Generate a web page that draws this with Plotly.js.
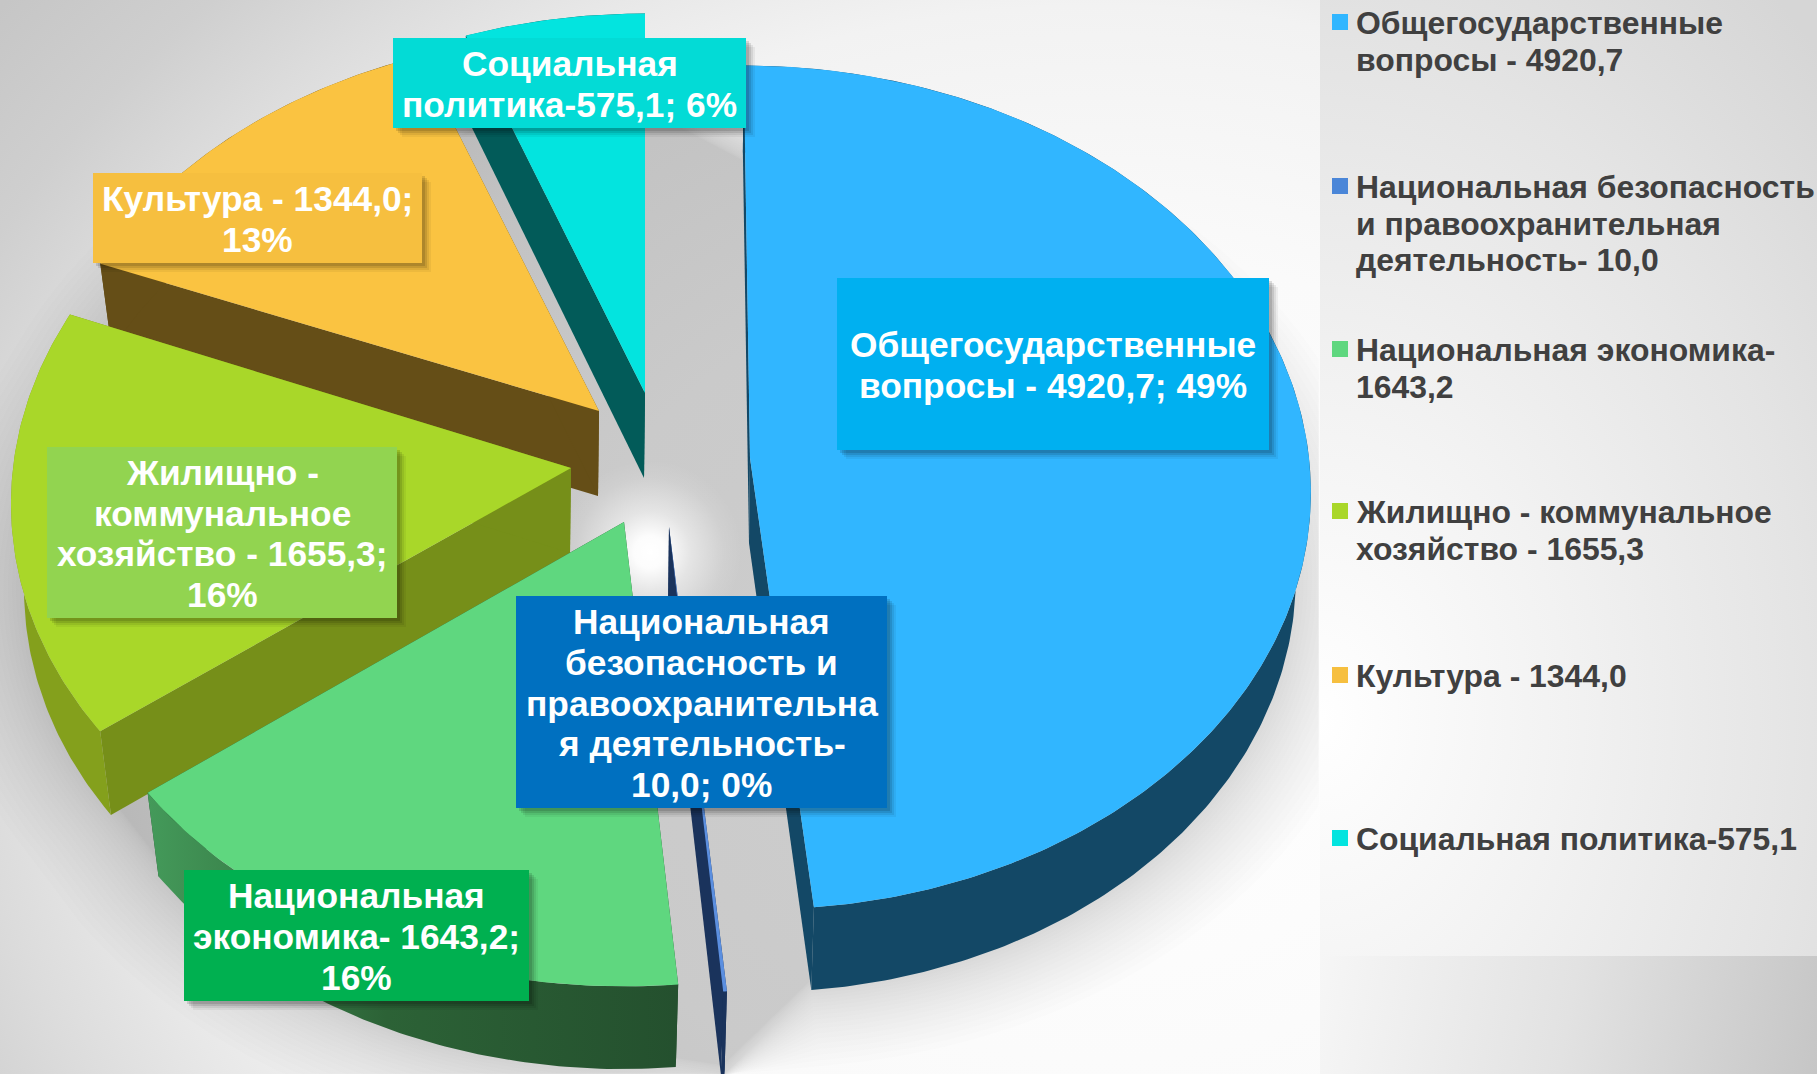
<!DOCTYPE html>
<html><head><meta charset="utf-8">
<script src="https://cdn.plot.ly/plotly-3.0.1.min.js"></script>
<style>
html,body{margin:0;padding:0;width:1817px;height:1074px;overflow:hidden;}
body{position:relative;background:
 radial-gradient(ellipse 1400px 1120px at 1100px 700px,#ffffff 0%,#fafafa 40%,#f2f2f2 62%,#e8e8e8 71%,#dcdcdc 80%,#cfcfcf 89%,#c6c6c6 100%);}
#strip{position:absolute;left:1320px;top:956px;width:497px;height:118px;background:linear-gradient(100deg,#f6f6f6 0%,#e2e2e2 50%,#c6c6c6 100%);}
#panel{position:absolute;left:1320px;top:0;width:497px;height:956px;background:radial-gradient(ellipse 700px 950px at 0% 75%,#ffffff 0%,#f2f2f2 35%,#e4e4e4 70%,#d6d6d6 100%);}
#chart{position:absolute;left:0;top:0;width:1817px;height:1074px;}
</style></head>
<body><div id="strip"></div><div id="panel"></div><div id="chart"></div>
<script>
// ---- data ----
var categories=["Общегосударственные вопросы","Национальная безопасность и правоохранительная деятельность","Национальная экономика","Жилищно - коммунальное хозяйство","Культура","Социальная политика"];
var values=[4920.7,10.0,1643.2,1655.3,1344.0,575.1];
var dataLabels=[
 "Общегосударственные<br>вопросы - 4920,7; 49%",
 "Национальная<br>безопасность и<br>правоохранительна<br>я деятельность-<br>10,0; 0%",
 "Национальная<br>экономика- 1643,2;<br>16%",
 "Жилищно -<br>коммунальное<br>хозяйство - 1655,3;<br>16%",
 "Культура - 1344,0;<br>13%",
 "Социальная<br>политика-575,1; 6%"];
var legendLabels=[
 "Общегосударственные<br>вопросы - 4920,7",
 "Национальная безопасность<br>и правоохранительная<br>деятельность- 10,0",
 "Национальная экономика-<br>1643,2",
 "Жилищно - коммунальное<br>хозяйство - 1655,3",
 "Культура - 1344,0",
 "Социальная политика-575,1"];
// ---- styles ----
var topColor=["#31B6FF","#5B8FE0","#5FD77F","#A9D729","#FAC341","#03E4DF"];
var wallColor=["#134866","#1A335C","#24502E","#768F19","#654E17","#025B59"];
var arcColor=["#134866","#1A335C","#2C6236","#84A01C","#654E17","#025B59"];
var legendColor=["#31B6FF","#4A86D8","#5FD77F","#A9D729","#F6BF3F","#03E4DF"];
var boxColor=["#00B0F0","#0070C0","#00B050","#92D450","#F6BF3F","#03DBD6"];
// ---- layout of the exploded perspective pie ----
var apexX=[750,669,624,571,599,645], apexY=[458,527,522,468,411,393];
var radX=[559,571,571,558,552,550], radY=[422,436,434,422,405,408];
var shear=[0.016,0,0,-0.02,0,0];
var persp=0.07, depth=85, kx=0.975, ky=0.995;
var boxL=[837,516,184,47,93,393], boxR=[1269,887,529,397,422,746], boxT=[278,596,870,447,173,38], boxB=[450,808,1001,618,263,128];
var legendY=[23,187,350,512,676,839];
var paintOrder=[5,4,3,2,1,0];

var total=values.reduce(function(a,b){return a+b;},0);
var startA=[],endA=[],acc=0;
values.forEach(function(v,i){startA[i]=acc/total*360;acc+=v;endA[i]=acc/total*360;});
function pt(i,deg,bottom,f){
  var t=deg*Math.PI/180,s=1-persp*Math.cos(t),g=f||1;
  var dy=-radY[i]*Math.cos(t)*s*g;
  var dx=radX[i]*Math.sin(t)*s*g+shear[i]*dy;
  if(bottom){dx*=kx;dy*=ky;dy+=depth;dx-=1;}
  return [apexX[i]+dx,apexY[i]+dy];
}
function arc(i,a0,a1,bottom,f){
  var n=Math.max(2,Math.ceil((a1-a0)*1.5)),o=[];
  for(var k=0;k<=n;k++)o.push(pt(i,a0+(a1-a0)*k/n,bottom,f));
  return o;
}
function poly(points,color,extra){
  var tr={type:"scatter",mode:"lines",x:points.map(function(p){return p[0];}),y:points.map(function(p){return p[1];}),
    fill:"toself",fillcolor:color,line:{width:0,color:color},hoverinfo:"skip",showlegend:false};
  if(extra)for(var k in extra)tr[k]=extra[k];
  return tr;
}
function apexPt(i,bottom){return bottom?[apexX[i]-1,apexY[i]+depth]:[apexX[i],apexY[i]];}

var traces=[];
// soft shadow below the pie: its silhouette, grown in steps, denser near the edge
for(var l=0;l<24;l++){
  var f=0.98+Math.pow(l/23,1.6)*0.19,pts=[];
  categories.forEach(function(c,i){ pts=pts.concat(arc(i,startA[i],endA[i],true,f)); });
  pts=pts.map(function(p){return [Math.min(1319,p[0]),Math.min(1074,p[1])];});
  traces.push(poly(pts,"rgba(0,0,0,0.0082)"));
}
// bright spot in the middle of the gaps
var spot=[];for(var d2=0;d2<=360;d2+=6){var r2=d2*Math.PI/180;spot.push([650+135*Math.sin(r2),552+135*Math.cos(r2)]);}
traces.push(poly(spot,"rgba(255,255,255,0)",{fillgradient:{type:"radial",colorscale:[[0,"rgba(255,255,255,1)"],[0.12,"rgba(255,255,255,0.95)"],[0.3,"rgba(255,255,255,0.5)"],[0.55,"rgba(255,255,255,0.1)"],[0.68,"rgba(255,255,255,0)"],[1,"rgba(255,255,255,0)"]]}}));

paintOrder.forEach(function(i){
  var a0=startA[i],a1=endA[i];
  [a0,a1].forEach(function(a){
    traces.push(poly([apexPt(i,false),pt(i,a,false),pt(i,a,true),apexPt(i,true)],wallColor[i]));
  });
  var extra=null;
  if(i===2)extra={fillgradient:{type:"horizontal",colorscale:[[0,"#449A5A"],[0.45,"#2C6236"],[1,"#24502E"]]}};
  traces.push(poly(arc(i,a0,a1,false).concat(arc(i,a0,a1,true).reverse()),arcColor[i],extra));
  var face=[apexPt(i,false)].concat(arc(i,a0,a1,false));
  traces.push(poly(face,topColor[i],{name:categories[i]}));
});
categories.forEach(function(c,i){
  traces.push({type:"scatter",mode:"markers",x:[1340],y:[legendY[i]-1],marker:{symbol:"square",size:16,color:legendColor[i],line:{width:0}},hoverinfo:"skip",showlegend:false,name:c});
});

var shapes=[],annotations=[];
categories.forEach(function(c,i){
  [[9,9,0.05],[7,7,0.07],[5,5,0.10],[3,3,0.12]].forEach(function(s){
    shapes.push({type:"rect",xref:"x",yref:"y",x0:boxL[i]+s[0],x1:boxR[i]+s[0],y0:boxT[i]+s[1],y1:boxB[i]+s[1],fillcolor:"rgba(0,0,0,"+s[2]+")",line:{width:0},layer:"above"});
  });
  shapes.push({type:"rect",xref:"x",yref:"y",x0:boxL[i],x1:boxR[i],y0:boxT[i],y1:boxB[i],fillcolor:boxColor[i],line:{width:0},layer:"above"});
  var lines=dataLabels[i].split("<br>"),lh=40.7,cy=(boxT[i]+boxB[i])/2+1;
  lines.forEach(function(t,k){
    annotations.push({xref:"x",yref:"y",x:(boxL[i]+boxR[i])/2,y:cy+(k-(lines.length-1)/2)*lh,xanchor:"center",yanchor:"middle",align:"center",showarrow:false,
      text:t,font:{family:"Liberation Sans",size:35.3,color:"#FFFFFF",weight:"bold"}});
  });
  legendLabels[i].split("<br>").forEach(function(t,k){
    annotations.push({xref:"x",yref:"y",x:1354,y:legendY[i]+k*36.5,xanchor:"left",yanchor:"middle",align:"left",showarrow:false,
      text:t,font:{family:"Liberation Sans",size:31.9,color:"#404040",weight:"bold"}});
  });
});

Plotly.newPlot("chart",traces,{
  width:1817,height:1074,margin:{l:0,r:0,t:0,b:0},
  paper_bgcolor:"rgba(0,0,0,0)",plot_bgcolor:"rgba(0,0,0,0)",showlegend:false,
  xaxis:{range:[0,1817],visible:false,fixedrange:true},
  yaxis:{range:[1074,0],visible:false,fixedrange:true},
  shapes:shapes,annotations:annotations,hovermode:false
},{displayModeBar:false,staticPlot:true});
</script></body></html>
